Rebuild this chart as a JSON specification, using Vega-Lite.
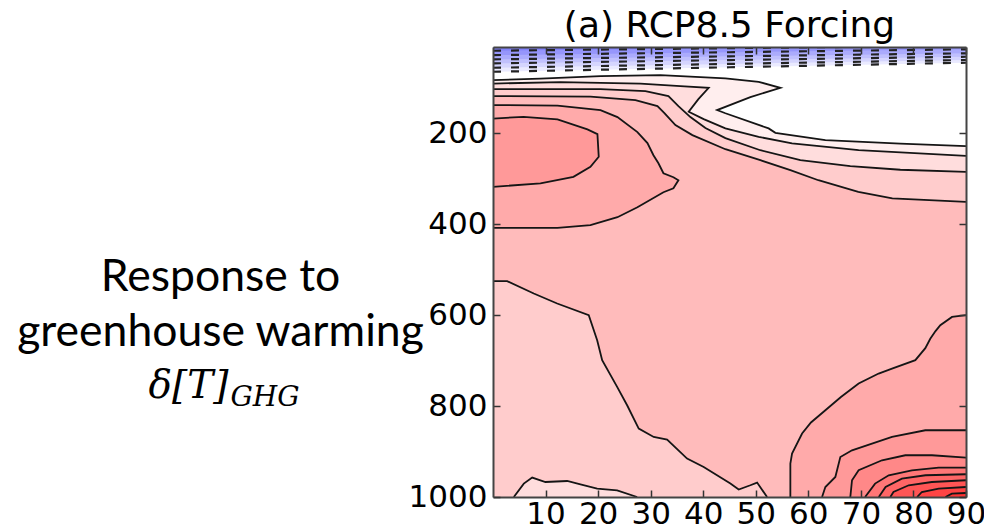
{
  "$schema": "https://vega.github.io/schema/vega-lite/v6.json",
  "width": 473,
  "height": 450,
  "autosize": {"type": "none"},
  "padding": {"left": 493, "top": 47, "right": 18, "bottom": 32},
  "background": "white",
  "config": {"view": {"stroke": null}},
  "title": {"text": "(a) RCP8.5 Forcing", "font": "DejaVu Sans", "fontSize": 36, "fontWeight": "normal", "color": "black", "anchor": "middle", "frame": "group", "offset": 9, "dy": 36, "baseline": "alphabetic"},
  "data": {"values": [
    {"id":"B6","lev":"b6","i":0,"lat":0,"p":64.5,"s":"d6","d":1},{"id":"B6","lev":"b6","i":1,"lat":45,"p":54.6,"s":"d6","d":1},{"id":"B6","lev":"b6","i":2,"lat":90,"p":44.6,"s":"d6","d":1},{"id":"B6","lev":"b6","i":3,"lat":90,"p":0},{"id":"B6","lev":"b6","i":4,"lat":0,"p":0},
    {"id":"B5","lev":"b5","i":0,"lat":0,"p":55.7,"s":"d5","d":1},{"id":"B5","lev":"b5","i":1,"lat":45,"p":47.2,"s":"d5","d":1},{"id":"B5","lev":"b5","i":2,"lat":90,"p":38.6,"s":"d5","d":1},{"id":"B5","lev":"b5","i":3,"lat":90,"p":0},{"id":"B5","lev":"b5","i":4,"lat":0,"p":0},
    {"id":"B4","lev":"b4","i":0,"lat":0,"p":46.0,"s":"d4","d":1},{"id":"B4","lev":"b4","i":1,"lat":45,"p":38.8,"s":"d4","d":1},{"id":"B4","lev":"b4","i":2,"lat":90,"p":31.4,"s":"d4","d":1},{"id":"B4","lev":"b4","i":3,"lat":90,"p":0},{"id":"B4","lev":"b4","i":4,"lat":0,"p":0},
    {"id":"B3","lev":"b3","i":0,"lat":0,"p":37.2,"s":"d3","d":1},{"id":"B3","lev":"b3","i":1,"lat":45,"p":30.5,"s":"d3","d":1},{"id":"B3","lev":"b3","i":2,"lat":90,"p":23.9,"s":"d3","d":1},{"id":"B3","lev":"b3","i":3,"lat":90,"p":0},{"id":"B3","lev":"b3","i":4,"lat":0,"p":0},
    {"id":"B2","lev":"b2","i":0,"lat":0,"p":27.8,"s":"d2","d":1},{"id":"B2","lev":"b2","i":1,"lat":45,"p":21.5,"s":"d2","d":1},{"id":"B2","lev":"b2","i":2,"lat":90,"p":15.1,"s":"d2","d":1},{"id":"B2","lev":"b2","i":3,"lat":90,"p":0},{"id":"B2","lev":"b2","i":4,"lat":0,"p":0},
    {"id":"B1","lev":"b1","i":0,"lat":0,"p":18.2,"s":"d1","d":1},{"id":"B1","lev":"b1","i":1,"lat":45,"p":12.6,"s":"d1","d":1},{"id":"B1","lev":"b1","i":2,"lat":90,"p":7.0,"s":"d1","d":1},{"id":"B1","lev":"b1","i":3,"lat":90,"p":0},{"id":"B1","lev":"b1","i":4,"lat":0,"p":0},

    {"id":"P1","lev":"L1","i":0,"lat":0,"p":82.8,"s":"c1"},{"id":"P1","lev":"L1","i":1,"lat":9.03,"p":79.5,"s":"c1"},{"id":"P1","lev":"L1","i":2,"lat":20.45,"p":74.0,"s":"c1"},{"id":"P1","lev":"L1","i":3,"lat":31.86,"p":71.8,"s":"c1"},{"id":"P1","lev":"L1","i":4,"lat":44.22,"p":79.0,"s":"c1"},{"id":"P1","lev":"L1","i":5,"lat":50.55,"p":86.5,"s":"c1"},{"id":"P1","lev":"L1","i":6,"lat":54.68,"p":99.7,"s":"c1"},{"id":"P1","lev":"L1","i":7,"lat":48.97,"p":120.2,"s":"c1"},{"id":"P1","lev":"L1","i":8,"lat":42.64,"p":148.8,"s":"c1"},{"id":"P1","lev":"L1","i":9,"lat":44.22,"p":155.8,"s":"c1"},{"id":"P1","lev":"L1","i":10,"lat":52.45,"p":189.1,"s":"c1"},{"id":"P1","lev":"L1","i":11,"lat":53.73,"p":198.8,"s":"c1"},{"id":"P1","lev":"L1","i":12,"lat":63.24,"p":214.9,"s":"c1"},{"id":"P1","lev":"L1","i":13,"lat":77.51,"p":222.5,"s":"c1"},{"id":"P1","lev":"L1","i":14,"lat":90,"p":228.1,"s":"c1"},{"id":"P1","lev":"L1","i":15,"lat":90,"p":1000},{"id":"P1","lev":"L1","i":16,"lat":0,"p":1000},

    {"id":"P2","lev":"L2","i":0,"lat":0,"p":90.5,"s":"c2"},{"id":"P2","lev":"L2","i":1,"lat":12.84,"p":87.2,"s":"c2"},{"id":"P2","lev":"L2","i":2,"lat":28.05,"p":90.5,"s":"c2"},{"id":"P2","lev":"L2","i":3,"lat":35.66,"p":96.0,"s":"c2"},{"id":"P2","lev":"L2","i":4,"lat":41.04,"p":99.7,"s":"c2"},{"id":"P2","lev":"L2","i":5,"lat":39.08,"p":124.6,"s":"c2"},{"id":"P2","lev":"L2","i":6,"lat":37.24,"p":152.5,"s":"c2"},{"id":"P2","lev":"L2","i":7,"lat":40.09,"p":168.6,"s":"c2"},{"id":"P2","lev":"L2","i":8,"lat":44.22,"p":189.1,"s":"c2"},{"id":"P2","lev":"L2","i":9,"lat":50.55,"p":207.6,"s":"c2"},{"id":"P2","lev":"L2","i":10,"lat":56.9,"p":222.1,"s":"c2"},{"id":"P2","lev":"L2","i":11,"lat":69.57,"p":236.9,"s":"c2"},{"id":"P2","lev":"L2","i":12,"lat":90,"p":249.4,"s":"c2"},{"id":"P2","lev":"L2","i":13,"lat":90,"p":1000},{"id":"P2","lev":"L2","i":14,"lat":0,"p":1000},

    {"id":"P3","lev":"L3","i":0,"lat":0,"p":102.6,"s":"c3"},{"id":"P3","lev":"L3","i":1,"lat":20.45,"p":102.6,"s":"c3"},{"id":"P3","lev":"L3","i":2,"lat":29.0,"p":107.0,"s":"c3"},{"id":"P3","lev":"L3","i":3,"lat":33.38,"p":118.0,"s":"c3"},{"id":"P3","lev":"L3","i":4,"lat":35.28,"p":140.0,"s":"c3"},{"id":"P3","lev":"L3","i":5,"lat":37.56,"p":164.2,"s":"c3"},{"id":"P3","lev":"L3","i":6,"lat":40.42,"p":188.4,"s":"c3"},{"id":"P3","lev":"L3","i":7,"lat":44.22,"p":210.5,"s":"c3"},{"id":"P3","lev":"L3","i":8,"lat":50.87,"p":237.1,"s":"c3"},{"id":"P3","lev":"L3","i":9,"lat":58.48,"p":259.1,"s":"c3"},{"id":"P3","lev":"L3","i":10,"lat":67.99,"p":272.3,"s":"c3"},{"id":"P3","lev":"L3","i":11,"lat":77.51,"p":280.0,"s":"c3"},{"id":"P3","lev":"L3","i":12,"lat":90,"p":284.9,"s":"c3"},{"id":"P3","lev":"L3","i":13,"lat":90,"p":1000},{"id":"P3","lev":"L3","i":14,"lat":0,"p":1000},

    {"id":"PB","lev":"L2","i":0,"lat":3.96,"p":1000,"s":"cb"},{"id":"PB","lev":"L2","i":1,"lat":5.86,"p":970.5,"s":"cb"},{"id":"PB","lev":"L2","i":2,"lat":7.46,"p":957.3,"s":"cb"},{"id":"PB","lev":"L2","i":3,"lat":9.98,"p":967.0,"s":"cb"},{"id":"PB","lev":"L2","i":4,"lat":14.11,"p":964.8,"s":"cb"},{"id":"PB","lev":"L2","i":5,"lat":16.64,"p":972.0,"s":"cb"},{"id":"PB","lev":"L2","i":6,"lat":19.82,"p":981.5,"s":"cb"},{"id":"PB","lev":"L2","i":7,"lat":23.62,"p":985.3,"s":"cb"},{"id":"PB","lev":"L2","i":8,"lat":27.43,"p":1000,"s":"cb"},

    {"id":"P4","lev":"L4","i":0,"lat":0,"p":118.0,"s":"c4"},{"id":"P4","lev":"L4","i":1,"lat":18.54,"p":119.1,"s":"c4"},{"id":"P4","lev":"L4","i":2,"lat":27.1,"p":126.8,"s":"c4"},{"id":"P4","lev":"L4","i":3,"lat":31.29,"p":140.0,"s":"c4"},{"id":"P4","lev":"L4","i":4,"lat":32.62,"p":155.4,"s":"c4"},{"id":"P4","lev":"L4","i":5,"lat":34.71,"p":181.8,"s":"c4"},{"id":"P4","lev":"L4","i":6,"lat":37.94,"p":203.9,"s":"c4"},{"id":"P4","lev":"L4","i":7,"lat":44.22,"p":234.9,"s":"c4"},{"id":"P4","lev":"L4","i":8,"lat":50.87,"p":259.1,"s":"c4"},{"id":"P4","lev":"L4","i":9,"lat":56.58,"p":281.1,"s":"c4"},{"id":"P4","lev":"L4","i":10,"lat":61.91,"p":303.1,"s":"c4"},{"id":"P4","lev":"L4","i":11,"lat":69.51,"p":328.6,"s":"c4"},{"id":"P4","lev":"L4","i":12,"lat":75.98,"p":343.2,"s":"c4"},{"id":"P4","lev":"L4","i":13,"lat":90,"p":350.6,"s":"c4"},{"id":"P4","lev":"L4","i":14,"lat":90,"p":1000},
    {"id":"P4","lev":"L4","i":15,"lat":52.15,"p":1000,"s":"c4b"},{"id":"P4","lev":"L4","i":16,"lat":50.25,"p":968.3,"s":"c4b"},{"id":"P4","lev":"L4","i":17,"lat":48.97,"p":974.2,"s":"c4b"},{"id":"P4","lev":"L4","i":18,"lat":46.75,"p":983.7,"s":"c4b"},{"id":"P4","lev":"L4","i":19,"lat":45.17,"p":970.5,"s":"c4b"},{"id":"P4","lev":"L4","i":20,"lat":40.09,"p":934.0,"s":"c4b"},{"id":"P4","lev":"L4","i":21,"lat":36.93,"p":915.5,"s":"c4b"},{"id":"P4","lev":"L4","i":22,"lat":33.13,"p":873.6,"s":"c4b"},{"id":"P4","lev":"L4","i":23,"lat":30.58,"p":867.9,"s":"c4b"},{"id":"P4","lev":"L4","i":24,"lat":27.73,"p":849.4,"s":"c4b"},{"id":"P4","lev":"L4","i":25,"lat":25.52,"p":798.1,"s":"c4b"},{"id":"P4","lev":"L4","i":26,"lat":23.62,"p":757.8,"s":"c4b"},{"id":"P4","lev":"L4","i":27,"lat":20.77,"p":699.0,"s":"c4b"},{"id":"P4","lev":"L4","i":28,"lat":19.82,"p":655.0,"s":"c4b"},{"id":"P4","lev":"L4","i":29,"lat":18.22,"p":600.0,"s":"c4b"},{"id":"P4","lev":"L4","i":30,"lat":12.21,"p":574.3,"s":"c4b"},{"id":"P4","lev":"L4","i":31,"lat":7.76,"p":552.3,"s":"c4b"},{"id":"P4","lev":"L4","i":32,"lat":2.70,"p":525.2,"s":"c4b"},{"id":"P4","lev":"L4","i":33,"lat":0,"p":525.2,"s":"c4b"},

    {"id":"P5a","lev":"L5","i":0,"lat":0,"p":137.8,"s":"c5"},{"id":"P5a","lev":"L5","i":1,"lat":12.27,"p":138.9,"s":"c5"},{"id":"P5a","lev":"L5","i":2,"lat":20.45,"p":148.8,"s":"c5"},{"id":"P5a","lev":"L5","i":3,"lat":23.68,"p":164.2,"s":"c5"},{"id":"P5a","lev":"L5","i":4,"lat":27.48,"p":197.3,"s":"c5"},{"id":"P5a","lev":"L5","i":5,"lat":29.39,"p":221.5,"s":"c5"},{"id":"P5a","lev":"L5","i":6,"lat":30.53,"p":248.1,"s":"c5"},{"id":"P5a","lev":"L5","i":7,"lat":31.48,"p":265.7,"s":"c5"},{"id":"P5a","lev":"L5","i":8,"lat":32.43,"p":287.7,"s":"c5"},{"id":"P5a","lev":"L5","i":9,"lat":34.33,"p":296.5,"s":"c5"},{"id":"P5a","lev":"L5","i":10,"lat":35.28,"p":303.1,"s":"c5"},{"id":"P5a","lev":"L5","i":11,"lat":34.33,"p":320.7,"s":"c5"},{"id":"P5a","lev":"L5","i":12,"lat":32.43,"p":329.5,"s":"c5"},{"id":"P5a","lev":"L5","i":13,"lat":27.48,"p":362.5,"s":"c5"},{"id":"P5a","lev":"L5","i":14,"lat":23.68,"p":384.5,"s":"c5"},{"id":"P5a","lev":"L5","i":15,"lat":18.54,"p":402.1,"s":"c5"},{"id":"P5a","lev":"L5","i":16,"lat":12.27,"p":407.9,"s":"c5"},{"id":"P5a","lev":"L5","i":17,"lat":0,"p":407.9,"s":"c5"},

    {"id":"P5b","lev":"L5","i":0,"lat":90,"p":600.0,"s":"c5b"},{"id":"P5b","lev":"L5","i":1,"lat":87.34,"p":603.8,"s":"c5b"},{"id":"P5b","lev":"L5","i":2,"lat":85.11,"p":622.0,"s":"c5b"},{"id":"P5b","lev":"L5","i":3,"lat":84.2,"p":635.0,"s":"c5b"},{"id":"P5b","lev":"L5","i":4,"lat":83.2,"p":652.0,"s":"c5b"},{"id":"P5b","lev":"L5","i":5,"lat":82.26,"p":672.6,"s":"c5b"},{"id":"P5b","lev":"L5","i":6,"lat":80.36,"p":699.0,"s":"c5b"},{"id":"P5b","lev":"L5","i":7,"lat":75.92,"p":717.4,"s":"c5b"},{"id":"P5b","lev":"L5","i":8,"lat":73.38,"p":728.4,"s":"c5b"},{"id":"P5b","lev":"L5","i":9,"lat":69.57,"p":750.4,"s":"c5b"},{"id":"P5b","lev":"L5","i":10,"lat":66.2,"p":780.0,"s":"c5b"},{"id":"P5b","lev":"L5","i":11,"lat":63.24,"p":809.1,"s":"c5b"},{"id":"P5b","lev":"L5","i":12,"lat":60.5,"p":836.0,"s":"c5b"},{"id":"P5b","lev":"L5","i":13,"lat":58.81,"p":860.4,"s":"c5b"},{"id":"P5b","lev":"L5","i":14,"lat":56.9,"p":904.5,"s":"c5b"},{"id":"P5b","lev":"L5","i":15,"lat":56.58,"p":926.5,"s":"c5b"},{"id":"P5b","lev":"L5","i":16,"lat":56.58,"p":1000,"s":"c5b"},{"id":"P5b","lev":"L5","i":17,"lat":90,"p":1000},

    {"id":"P6a","lev":"L6","i":0,"lat":0,"p":167.5,"s":"c6"},{"id":"P6a","lev":"L6","i":1,"lat":5.80,"p":163.6,"s":"c6"},{"id":"P6a","lev":"L6","i":2,"lat":12.27,"p":169.3,"s":"c6"},{"id":"P6a","lev":"L6","i":3,"lat":17.97,"p":191.3,"s":"c6"},{"id":"P6a","lev":"L6","i":4,"lat":19.87,"p":201.7,"s":"c6"},{"id":"P6a","lev":"L6","i":5,"lat":20.12,"p":251.6,"s":"c6"},{"id":"P6a","lev":"L6","i":6,"lat":18.54,"p":273.6,"s":"c6"},{"id":"P6a","lev":"L6","i":7,"lat":15.31,"p":295.6,"s":"c6"},{"id":"P6a","lev":"L6","i":8,"lat":9.03,"p":310.1,"s":"c6"},{"id":"P6a","lev":"L6","i":9,"lat":0,"p":317.6,"s":"c6"},

    {"id":"P6b","lev":"L6","i":0,"lat":90,"p":853.2,"s":"c6b"},{"id":"P6b","lev":"L6","i":1,"lat":82.26,"p":853.2,"s":"c6b"},{"id":"P6b","lev":"L6","i":2,"lat":75.92,"p":867.9,"s":"c6b"},{"id":"P6b","lev":"L6","i":3,"lat":68.31,"p":897.2,"s":"c6b"},{"id":"P6b","lev":"L6","i":4,"lat":66.09,"p":912.0,"s":"c6b"},{"id":"P6b","lev":"L6","i":5,"lat":65.14,"p":956.0,"s":"c6b"},{"id":"P6b","lev":"L6","i":6,"lat":63.24,"p":978.0,"s":"c6b"},{"id":"P6b","lev":"L6","i":7,"lat":62.61,"p":1000,"s":"c6b"},{"id":"P6b","lev":"L6","i":8,"lat":90,"p":1000},

    {"id":"P7","lev":"L7","i":0,"lat":90,"p":913.3,"s":"c7"},{"id":"P7","lev":"L7","i":1,"lat":83.53,"p":908.2,"s":"c7"},{"id":"P7","lev":"L7","i":2,"lat":78.45,"p":908.2,"s":"c7"},{"id":"P7","lev":"L7","i":3,"lat":74.02,"p":919.2,"s":"c7"},{"id":"P7","lev":"L7","i":4,"lat":69.57,"p":941.2,"s":"c7"},{"id":"P7","lev":"L7","i":5,"lat":68.31,"p":963.2,"s":"c7"},{"id":"P7","lev":"L7","i":6,"lat":67.99,"p":1000,"s":"c7"},{"id":"P7","lev":"L7","i":7,"lat":90,"p":1000},

    {"id":"P8","lev":"L8","i":0,"lat":90,"p":935.3,"s":"c8"},{"id":"P8","lev":"L8","i":1,"lat":84.8,"p":935.3,"s":"c8"},{"id":"P8","lev":"L8","i":2,"lat":79.7,"p":941.2,"s":"c8"},{"id":"P8","lev":"L8","i":3,"lat":75.3,"p":952.2,"s":"c8"},{"id":"P8","lev":"L8","i":4,"lat":72.7,"p":970.5,"s":"c8"},{"id":"P8","lev":"L8","i":5,"lat":70.8,"p":1000,"s":"c8"},{"id":"P8","lev":"L8","i":6,"lat":90,"p":1000},

    {"id":"P9","lev":"L9","i":0,"lat":90,"p":950.0,"s":"c9"},{"id":"P9","lev":"L9","i":1,"lat":82.3,"p":952.2,"s":"c9"},{"id":"P9","lev":"L9","i":2,"lat":77.8,"p":959.5,"s":"c9"},{"id":"P9","lev":"L9","i":3,"lat":74.7,"p":978.0,"s":"c9"},{"id":"P9","lev":"L9","i":4,"lat":73.4,"p":1000,"s":"c9"},{"id":"P9","lev":"L9","i":5,"lat":90,"p":1000},

    {"id":"P10","lev":"L10","i":0,"lat":90,"p":963.2,"s":"c10"},{"id":"P10","lev":"L10","i":1,"lat":83.5,"p":967.0,"s":"c10"},{"id":"P10","lev":"L10","i":2,"lat":79.1,"p":974.2,"s":"c10"},{"id":"P10","lev":"L10","i":3,"lat":76.2,"p":989.0,"s":"c10"},{"id":"P10","lev":"L10","i":4,"lat":75.6,"p":1000,"s":"c10"},{"id":"P10","lev":"L10","i":5,"lat":90,"p":1000},

    {"id":"P11","lev":"L11","i":0,"lat":90,"p":978.0,"s":"c11"},{"id":"P11","lev":"L11","i":1,"lat":84.8,"p":981.5,"s":"c11"},{"id":"P11","lev":"L11","i":2,"lat":81.6,"p":989.0,"s":"c11"},{"id":"P11","lev":"L11","i":3,"lat":80.7,"p":1000,"s":"c11"},{"id":"P11","lev":"L11","i":4,"lat":90,"p":1000},

    {"id":"P12","lev":"L12","i":0,"lat":90,"p":991.2,"s":"c12"},{"id":"P12","lev":"L12","i":1,"lat":87.3,"p":992.5,"s":"c12"},{"id":"P12","lev":"L12","i":2,"lat":86.1,"p":1000,"s":"c12"},{"id":"P12","lev":"L12","i":3,"lat":90,"p":1000}
  ]},
  "layer": [
    {
      "mark": {"type": "line", "strokeWidth": 0, "strokeOpacity": 0, "clip": true, "interpolate": "linear"},
      "encoding": {
        "x": {"field": "lat", "type": "quantitative", "scale": {"domain": [0, 90], "nice": false, "zero": false},
              "axis": {"orient": "bottom", "values": [10, 20, 30, 40, 50, 60, 70, 80, 90], "labelOverlap": false, "labelFlush": false, "grid": false, "title": null, "tickSize": -7, "tickColor": "#333", "tickWidth": 1.5, "labelPadding": 9, "labelFont": "DejaVu Sans", "labelFontSize": 31, "labelColor": "black", "domainColor": "#444", "domainWidth": 2, "zindex": 1}},
        "y": {"field": "p", "type": "quantitative", "scale": {"domain": [10, 1000], "reverse": true, "nice": false, "zero": false},
              "axis": {"orient": "left", "values": [200, 400, 600, 800, 1000], "format": "d", "labelOverlap": false, "labelFlush": false, "grid": false, "tickSize": -7, "tickColor": "#333", "tickWidth": 1.5, "labelPadding": 13, "labelFont": "DejaVu Sans", "labelFontSize": 31, "labelColor": "black", "domainColor": "#444", "domainWidth": 2, "zindex": 1,
                       "title": ["Response to", "greenhouse warming"], "titleFont": "Lato", "titleFontSize": 44.5, "titleFontWeight": "normal", "titleColor": "black", "titleAngle": 0, "titleAlign": "center", "titleBaseline": "alphabetic", "titleX": -273, "titleY": 243, "titleLineHeight": 55}},
        "fill": {"field": "lev", "type": "nominal", "legend": null,
                 "scale": {"domain": ["b6","b5","b4","b3","b2","b1","L1","L2","L3","L4","L5","L6","L7","L8","L9","L10","L11","L12"],
                           "range": ["#eaeaff","#d5d5fe","#c0c0fd","#ababfc","#9696fb","#8282fa","#ffeeee","#ffdddd","#ffcccc","#ffbbbb","#ffaaaa","#ff9999","#ff8888","#ff7777","#ff6666","#ff5555","#ff4444","#ff3333"]}},
        "detail": {"field": "id", "type": "nominal"},
        "order": {"field": "i", "type": "quantitative"}
      }
    },
    {
      "transform": [{"filter": "datum.d == 1"}],
      "mark": {"type": "line", "stroke": "#222", "strokeWidth": 2.2, "strokeDash": [8, 10], "clip": true},
      "encoding": {
        "x": {"field": "lat", "type": "quantitative", "scale": {"domain": [0, 90], "nice": false, "zero": false}, "axis": null},
        "y": {"field": "p", "type": "quantitative", "scale": {"domain": [10, 1000], "reverse": true, "nice": false, "zero": false}, "axis": null},
        "detail": {"field": "s", "type": "nominal"},
        "order": {"field": "i", "type": "quantitative"}
      }
    },
    {
      "transform": [{"filter": "datum.s != null && datum.d != 1"}],
      "mark": {"type": "line", "stroke": "#151515", "strokeWidth": 1.8, "clip": true},
      "encoding": {
        "x": {"field": "lat", "type": "quantitative", "scale": {"domain": [0, 90], "nice": false, "zero": false},
              "axis": {"orient": "top", "values": [10, 20, 30, 40, 50, 60, 70, 80, 90], "grid": false, "labels": false, "tickSize": -7, "tickColor": "#333", "tickWidth": 1.5, "domainColor": "#444", "domainWidth": 2, "zindex": 1,
                       "title": "GHG", "titleFont": "DejaVu Serif", "titleFontStyle": "italic", "titleFontSize": 28, "titleFontWeight": "normal", "titleColor": "black", "titleAngle": 0, "titleAlign": "left", "titleBaseline": "alphabetic", "titleX": -263, "titleY": 358}},
        "y": {"field": "p", "type": "quantitative", "scale": {"domain": [10, 1000], "reverse": true, "nice": false, "zero": false},
              "axis": {"orient": "right", "values": [200, 400, 600, 800, 1000], "grid": false, "labels": false, "tickSize": -7, "tickColor": "#333", "tickWidth": 1.5, "domainColor": "#444", "domainWidth": 2, "zindex": 1,
                       "title": "δ[T]", "titleFont": "DejaVu Serif", "titleFontStyle": "italic", "titleFontSize": 39, "titleFontWeight": "normal", "titleColor": "black", "titleAngle": 0, "titleAlign": "right", "titleBaseline": "alphabetic", "titleX": -738, "titleY": 350}},
        "detail": {"field": "s", "type": "nominal"},
        "order": {"field": "i", "type": "quantitative"}
      }
    }
  ],
  "resolve": {"axis": {"x": "independent", "y": "independent"}}
}
